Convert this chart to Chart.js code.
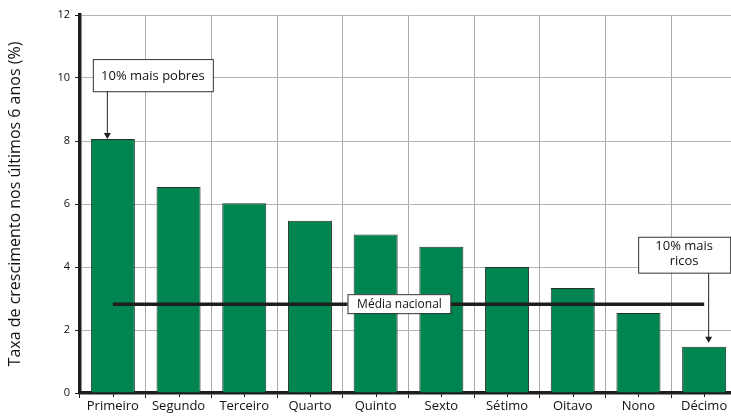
<!DOCTYPE html>
<html>
<head>
<meta charset="utf-8">
<script src="https://cdn.jsdelivr.net/npm/chart.js@4.4.0/dist/chart.umd.min.js"></script>
<style>
  html, body { margin: 0; padding: 0; background: #fff; overflow: hidden; }
  #wrap { width: 745px; height: 417px; }
</style>
</head>
<body>
<div id="wrap"><canvas id="c" width="745" height="417"></canvas></div>
<script>
const categories = ['Primeiro', 'Segundo', 'Terceiro', 'Quarto', 'Quinto', 'Sexto', 'Sétimo', 'Oitavo', 'Nono', 'Décimo']
const growth = [8.06, 6.54, 6.02, 5.47, 5.03, 4.64, 4.0, 3.33, 2.54, 1.47]
const nationalAverage = 2.82
const yTicks = [0, 2, 4, 6, 8, 10, 12]

const FONT = "'Open Sans', 'DejaVu Sans', sans-serif"
const DARK = '#1e1e1e'

// callout boxes, arrows and the label on the average line
const annotations = {
  id: 'annotations',
  afterDatasetsDraw(chart) {
    const { ctx, scales: { x, y } } = chart
    ctx.save()
    ctx.font = '13px ' + FONT
    ctx.textAlign = 'center'
    ctx.textBaseline = 'middle'

    const box = (l, t, w, h) => {
      ctx.fillStyle = '#fff'
      ctx.fillRect(l, t, w, h)
      ctx.strokeStyle = '#333'
      ctx.lineWidth = 1
      ctx.strokeRect(l + 0.5, t + 0.5, w, h)
    }
    const arrow = (ax, y0, y1) => {
      ctx.strokeStyle = '#222'
      ctx.lineWidth = 1
      ctx.beginPath()
      ctx.moveTo(ax + 0.5, y0)
      ctx.lineTo(ax + 0.5, y1 - 5)
      ctx.stroke()
      ctx.fillStyle = '#222'
      ctx.beginPath()
      ctx.moveTo(ax - 3, y1 - 6)
      ctx.lineTo(ax + 4, y1 - 6)
      ctx.lineTo(ax + 0.5, y1)
      ctx.closePath()
      ctx.fill()
    }

    // 10% mais pobres
    const c0 = x.getPixelForValue(0)
    const pTop = y.getPixelForValue(10.6), pBot = y.getPixelForValue(9.58)
    arrow(c0 - 6, pBot, y.getPixelForValue(growth[0]))
    box(c0 - 20, pTop, 120, pBot - pTop)
    ctx.fillStyle = '#111'
    ctx.fillText('10% mais pobres', c0 + 40, (pTop + pBot) / 2 + 1)

    // 10% mais ricos
    const c9 = x.getPixelForValue(9)
    const rTop = y.getPixelForValue(4.96), rBot = y.getPixelForValue(3.82)
    arrow(c9 + 4, rBot, y.getPixelForValue(growth[9]) - 4)
    box(c9 - 66, rTop, 92, rBot - rTop)
    ctx.fillStyle = '#111'
    ctx.fillText('10% mais', c9 - 20, rTop + 10)
    ctx.fillText('ricos', c9 - 20, rTop + 25)

    // Média nacional
    const my = y.getPixelForValue(nationalAverage)
    const mx = (x.getPixelForValue(4) + x.getPixelForValue(5)) / 2 - 9
    ctx.font = '12px ' + FONT
    box(mx - 52, my - 10, 103, 19)
    ctx.fillStyle = '#111'
    ctx.fillText('Média nacional', mx, my)

    // small tick marks at category centres
    ctx.strokeStyle = DARK
    ctx.lineWidth = 1
    categories.forEach((_, i) => {
      const px = Math.round(x.getPixelForValue(i)) + 0.5
      ctx.beginPath()
      ctx.moveTo(px, y.bottom)
      ctx.lineTo(px, y.bottom + 4)
      ctx.stroke()
    })
    ctx.restore()
  }
}

new Chart(document.getElementById('c'), {
  data: {
    labels: categories,
    datasets: [
      {
        type: 'line',
        data: categories.map(() => nationalAverage),
        borderColor: DARK,
        borderWidth: 3.5,
        pointRadius: 0,
        order: 0
      },
      {
        type: 'bar',
        data: growth,
        backgroundColor: '#008450',
        borderColor: '#233028',
        borderWidth: 1,
        barPercentage: 0.67,
        categoryPercentage: 1,
        order: 1
      }
    ]
  },
  options: {
    responsive: false,
    animation: false,
    layout: { padding: { top: 15, right: 8, left: 0, bottom: 0 } },
    plugins: { legend: { display: false }, tooltip: { enabled: false } },
    scales: {
      x: {
        offset: true,
        grid: { color: '#aaa', lineWidth: 1, tickLength: 5, tickColor: DARK, offset: true },
        border: { color: DARK, width: 3.5 },
        ticks: { color: '#111', font: { family: FONT, size: 13 }, padding: 0, maxRotation: 0 },
        afterFit: s => { s.height = 24 }
      },
      y: {
        min: 0,
        max: 12,
        afterBuildTicks: s => { s.ticks = yTicks.map(v => ({ value: v })) },
        grid: { color: '#b4b4b4', lineWidth: 1, tickLength: 5, tickColor: DARK },
        border: { color: DARK, width: 3.5 },
        ticks: { color: '#111', font: { family: FONT, size: 11 }, padding: 5 },
        title: {
          display: true,
          text: 'Taxa de crescimento nos últimos 6 anos (%)',
          color: '#111',
          font: { family: FONT, size: 16 },
          padding: { top: 6, bottom: 0 }
        },
        afterFit: s => { s.width = 80 }
      }
    }
  },
  plugins: [annotations]
})
</script>
</body>
</html>
